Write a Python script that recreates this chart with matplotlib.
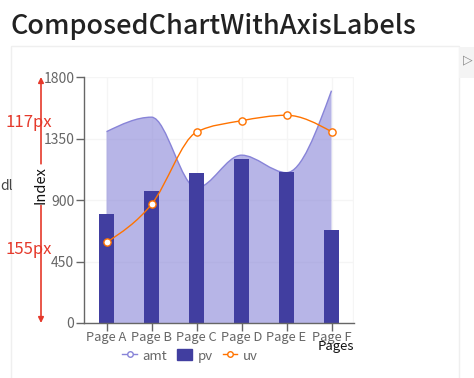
import numpy as np
import matplotlib
matplotlib.use('Agg')
import matplotlib.pyplot as plt
from matplotlib.path import Path
from matplotlib.patches import PathPatch, Rectangle
from matplotlib.lines import Line2D
from matplotlib import transforms

plt.rcParams['font.family'] = ['Noto Sans CJK JP', 'DejaVu Sans']

pages = ['Page A', 'Page B', 'Page C', 'Page D', 'Page E', 'Page F']
uv = [590, 868, 1397, 1480, 1520, 1400]
pv = [800, 967, 1098, 1200, 1108, 680]
amt = [1400, 1506, 989, 1228, 1100, 1700]
y_ticks = [0, 450, 900, 1350, 1800]


def monotone_path(xs, ys):
    # d3 curveMonotoneX as cubic bezier segments
    xs = np.asarray(xs, float)
    ys = np.asarray(ys, float)
    n = len(xs)
    h = np.diff(xs)
    s = np.diff(ys) / h
    t = np.zeros(n)
    for i in range(1, n - 1):
        p = (s[i - 1] * h[i] + s[i] * h[i - 1]) / (h[i - 1] + h[i])
        t[i] = (np.sign(s[i - 1]) + np.sign(s[i])) * min(abs(s[i - 1]), abs(s[i]), 0.5 * abs(p))
    t[0] = (3 * s[0] - t[1]) / 2
    t[-1] = (3 * s[-1] - t[-2]) / 2
    verts = [(xs[0], ys[0])]
    codes = [Path.MOVETO]
    for i in range(n - 1):
        dx = h[i] / 3
        verts += [(xs[i] + dx, ys[i] + dx * t[i]),
                  (xs[i + 1] - dx, ys[i + 1] - dx * t[i + 1]),
                  (xs[i + 1], ys[i + 1])]
        codes += [Path.CURVE4] * 3
    return verts, codes


W, H = 474, 378
fig = plt.figure(figsize=(W / 100, H / 100), dpi=100)
ax = fig.add_axes([84 / W, 1 - 323 / H, 270 / W, 246 / H])

x = np.arange(len(pages))

# grid
for yt in y_ticks:
    ax.axhline(yt, color='#f5f5f5', lw=1, zorder=0)
for xi in x:
    ax.axvline(xi, color='#f5f5f5', lw=1, zorder=0)
ax.axvline(5.48, color='#f5f5f5', lw=1, zorder=0)

# amt area
verts, codes = monotone_path(x, amt)
area_verts = verts + [(x[-1], 0), (x[0], 0), (x[0], amt[0])]
area_codes = codes + [Path.LINETO, Path.LINETO, Path.CLOSEPOLY]
ax.add_patch(PathPatch(Path(area_verts, area_codes), facecolor='#8884d8', alpha=0.6,
                       edgecolor='none', zorder=1))
ax.add_patch(PathPatch(Path(verts, codes), facecolor='none', edgecolor='#8884d8',
                       lw=1, zorder=1.5))

# pv bars
ax.bar(x, pv, width=0.34, color='#413ea0', zorder=2)

# uv line
verts, codes = monotone_path(x, uv)
ax.add_patch(PathPatch(Path(verts, codes), facecolor='none', edgecolor='#ff7300',
                       lw=1, zorder=3))
ax.plot(x, uv, 'o', ms=5.2, mfc='white', mec='#ff7300', mew=1, zorder=4)

ax.set_xlim(-0.5, 5.5)
ax.set_ylim(0, 1800)
ax.set_yticks(y_ticks)
ax.set_xticks(x)
ax.set_xticklabels(pages)
for sp in ['top', 'right']:
    ax.spines[sp].set_visible(False)
for sp in ['left', 'bottom']:
    ax.spines[sp].set_color('#666666')
    ax.spines[sp].set_linewidth(1)
ax.tick_params(colors='#666666', length=6, width=1)
ax.tick_params(axis='y', labelsize=10, pad=1)
ax.tick_params(axis='x', labelsize=9.3, pad=0)

ax.text(1.0, -0.068, 'Pages', transform=ax.transAxes, ha='right', va='top',
        fontsize=9.5, color='#111111')

# legend
handles = [
    Line2D([], [], color='#8884d8', lw=1, marker='o', ms=4, mfc='white', mec='#8884d8'),
    Rectangle((0, 0), 1, 1, color='#413ea0'),
    Line2D([], [], color='#ff7300', lw=1, marker='o', ms=4, mfc='white', mec='#ff7300'),
]
leg = fig.legend(handles, ['amt', 'pv', 'uv'], loc='center', ncol=3,
                 bbox_to_anchor=(190 / W, 1 - 356 / H), frameon=False, fontsize=9.5,
                 handlelength=1.1, handletextpad=0.4, columnspacing=0.8,
                 handleheight=0.9)
for t in leg.get_texts():
    t.set_color('#666666')

# title
fig.text(11 / W, 1 - 27 / H, 'ComposedChartWithAxisLabels', fontsize=19.5,
         fontweight='medium', color='#222222', va='center', ha='left')

# panel border
fig.add_artist(Rectangle((11 / W, -0.01), 448 / W, 1 - 46 / H + 0.01,
                         transform=fig.transFigure, fill=False, ec='#efefef', lw=1))
fig.add_artist(Rectangle((459 / W, 1 - 78 / H), 15 / W, 31 / H,
                         transform=fig.transFigure, fc='#f4f4f4', ec='none'))
fig.text(468 / W, 1 - 60 / H, '▷', fontsize=9, color='#888888', ha='center',
         va='center', family=['DejaVu Sans'])

# y label and annotation arrow
red = '#e5392b'
fig.text(40 / W, 1 - 185 / H, 'Index', rotation=90, fontsize=10.5, color='#111111',
         ha='center', va='center')
blend = transforms.blended_transform_factory(fig.transFigure, ax.transData)
ax.annotate('', xy=(41 / W, 1800), xytext=(41 / W, 1165), xycoords=blend, textcoords=blend,
            arrowprops=dict(arrowstyle='-|>', color=red, lw=1.2, mutation_scale=8,
                            shrinkA=0, shrinkB=0), annotation_clip=False)
ax.annotate('', xy=(41 / W, 0), xytext=(41 / W, 860), xycoords=blend, textcoords=blend,
            arrowprops=dict(arrowstyle='-|>', color=red, lw=1.2, mutation_scale=8,
                            shrinkA=0, shrinkB=0), annotation_clip=False)
fig.text(29 / W, 1 - 123 / H, '117px', fontsize=12, color=red, ha='center', va='center')
fig.text(29 / W, 1 - 250 / H, '155px', fontsize=12, color=red, ha='center', va='center')
fig.text(0, 1 - 186 / H, 'dl', fontsize=10, color='#444444', ha='left', va='center')

fig.savefig('out.png', dpi=100)
